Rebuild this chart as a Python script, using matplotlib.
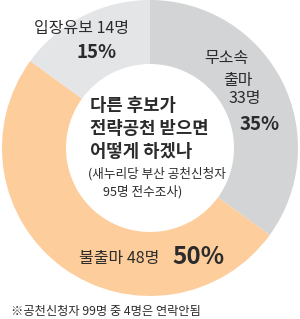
import matplotlib
matplotlib.use("Agg")
import matplotlib.pyplot as plt

plt.rcParams['font.family'] = ['Noto Sans CJK KR', 'DejaVu Sans']

categories = ['무소속 출마', '불출마', '입장유보']
counts = [33, 48, 14]
percents = [35, 50, 15]
colors = ['#D3D4D6', '#FDCD9C', '#E4E5E7']

W, H = 300, 319
fig = plt.figure(figsize=(3.0, 3.19), dpi=100)
ax = fig.add_axes([0, 0, 1, 1])

cx, cy, R = 150, H - 148, 148
ax.pie(percents, colors=colors, startangle=90, counterclock=False,
       center=(cx, cy), radius=R, wedgeprops=dict(width=64, linewidth=0),
       frame=True)
ax.set_xlim(0, W)
ax.set_ylim(0, H)
ax.set_aspect('equal')
ax.axis('off')

tc = '#2b2b2b'
def T(x, y, s, **kw):
    ax.text(x, H - y, s, color=tc, va='center', **kw)

lab = 11.5
# 입장유보
T(81, 29, f'{categories[2]} {counts[2]}명', fontsize=lab, ha='center')
T(97, 53, f'{percents[2]}%', fontsize=13.5, ha='center', fontweight='bold')
# 무소속 출마
T(226, 58, '무소속', fontsize=lab, ha='center')
T(238, 81, '출마', fontsize=lab, ha='center')
T(245, 99, f'{counts[0]}명', fontsize=lab, ha='center')
T(260, 124, f'{percents[0]}%', fontsize=13.5, ha='center', fontweight='bold')
# 불출마
T(119, 258, f'{categories[1]} {counts[1]}명', fontsize=lab, ha='center')
T(198, 257, f'{percents[1]}%', fontsize=17.5, ha='center', fontweight='bold')
# center title
T(90, 106, '다른 후보가', fontsize=12.8, ha='left', fontweight='bold')
T(90, 129, '전략공천 받으면', fontsize=12.8, ha='left', fontweight='bold')
T(90, 152, '어떻게 하겠나', fontsize=12.8, ha='left', fontweight='bold')
T(88, 174, '(새누리당 부산 공천신청자', fontsize=9.1, ha='left')
T(103, 192, '95명 전수조사)', fontsize=9.1, ha='left')
# footnote
T(11, 311, '※공천신청자 99명 중 4명은 연락안됨', fontsize=8.8, ha='left')

fig.savefig('out.png', dpi=100)
